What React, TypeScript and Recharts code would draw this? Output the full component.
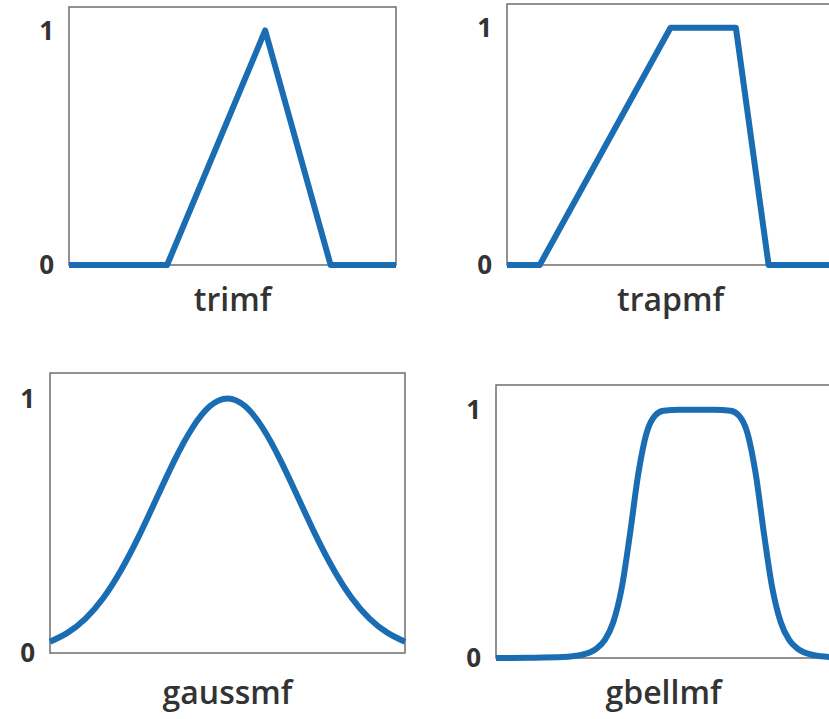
import React from 'react';
import { LineChart, Line, XAxis, YAxis, ReferenceArea } from 'recharts';

// Membership function shapes on a 0..10 universe, plotted with degree 0..1.
const BLUE = '#1a6db3';
const FRAME = '#6e6e6e';
const INK = '#333333';
const FONT = '"Open Sans", sans-serif';

const yTicks = [0, 1];

const trimfX = [0, 3, 6, 8, 10];
const trimfY = [0, 0, 1, 0, 0];

const trapmfX = [0, 1, 5, 7, 8, 10];
const trapmfY = [0, 0, 1, 1, 0, 0];

const gaussmfX = [0, 0.5, 1, 1.5, 2, 2.5, 3, 3.5, 4, 4.5, 5, 5.5, 6, 6.5, 7, 7.5, 8, 8.5, 9, 9.5, 10];
const gaussmfY = [0.044, 0.08, 0.135, 0.216, 0.325, 0.458, 0.607, 0.755, 0.882, 0.969, 1, 0.969, 0.882, 0.755, 0.607, 0.458, 0.325, 0.216, 0.135, 0.08, 0.044];

const gbellmfX = [0, 1, 2, 2.5, 3, 3.25, 3.5, 3.75, 4, 4.25, 4.5, 4.75, 5, 5.5, 6, 6.5, 7, 7.25, 7.5, 7.75, 8, 8.25, 8.5, 8.75, 9, 9.5, 10];
const gbellmfY = [0, 0.001, 0.004, 0.011, 0.038, 0.073, 0.144, 0.28, 0.5, 0.744, 0.909, 0.977, 0.996, 1, 1, 1, 0.996, 0.977, 0.909, 0.744, 0.5, 0.28, 0.144, 0.073, 0.038, 0.011, 0.004];

const zip = (xs: number[], ys: number[]) => xs.map((x, i) => ({ x, mu: ys[i] }));

// space around the plot box reserved for tick labels and the caption
const PAD_L = 60;
const PAD_T = 10;
const PAD_R = 10;
const PAD_B = 60;

interface PanelProps {
  title: string;
  xs: number[];
  ys: number[];
  curve: 'linear' | 'monotone' | 'natural';
  left: number;
  top: number;
  width: number;
  height: number;
  labelOffset: number;
}

const Panel: React.FC<PanelProps> = ({ title, xs, ys, curve, left, top, width, height, labelOffset }) => (
  <div style={{ position: 'absolute', left: left - PAD_L, top: top - PAD_T }}>
    <LineChart
      width={width + PAD_L + PAD_R}
      height={height + PAD_T + PAD_B}
      data={zip(xs, ys)}
      margin={{ top: PAD_T, right: PAD_R, bottom: 0, left: 0 }}
    >
      <XAxis
        dataKey="x"
        type="number"
        domain={[0, 10]}
        tick={false}
        tickLine={false}
        height={PAD_B}
        axisLine={false}
        label={{
          value: title,
          position: 'insideTop',
          offset: labelOffset,
          fill: INK,
          fontSize: 32,
          fontWeight: 600,
          fontFamily: FONT,
        }}
      />
      <YAxis
        type="number"
        domain={[0, 1.1]}
        ticks={yTicks}
        width={PAD_L}
        tickLine={false}
        tickSize={0}
        tickMargin={15}
        axisLine={false}
        tick={{ fill: INK, fontSize: 26, fontWeight: 700, fontFamily: FONT }}
      />
      {/* plot box */}
      <ReferenceArea
        x1={0}
        x2={10}
        y1={0}
        y2={1.1}
        fill="none"
        fillOpacity={0}
        stroke={FRAME}
        strokeWidth={1.5}
        ifOverflow="visible"
      />
      <Line
        dataKey="mu"
        type={curve}
        stroke={BLUE}
        strokeWidth={6}
        strokeLinejoin="round"
        dot={false}
        activeDot={false}
        isAnimationActive={false}
      />
    </LineChart>
  </div>
);

export default function App() {
  return (
    <div
      style={{
        position: 'absolute',
        left: 0,
        top: 0,
        width: 829,
        height: 719,
        overflow: 'hidden',
        background: '#ffffff',
      }}
    >
      <Panel title="trimf" xs={trimfX} ys={trimfY} curve="linear" left={69} top={7} width={327} height={258} labelOffset={23} />
      <Panel title="trapmf" xs={trapmfX} ys={trapmfY} curve="linear" left={507} top={4} width={327} height={261} labelOffset={23} />
      <Panel title="gaussmf" xs={gaussmfX} ys={gaussmfY} curve="natural" left={50} top={373} width={355} height={280} labelOffset={28} />
      <Panel title="gbellmf" xs={gbellmfX} ys={gbellmfY} curve="monotone" left={496} top={385} width={335} height={273} labelOffset={23} />
    </div>
  );
}
